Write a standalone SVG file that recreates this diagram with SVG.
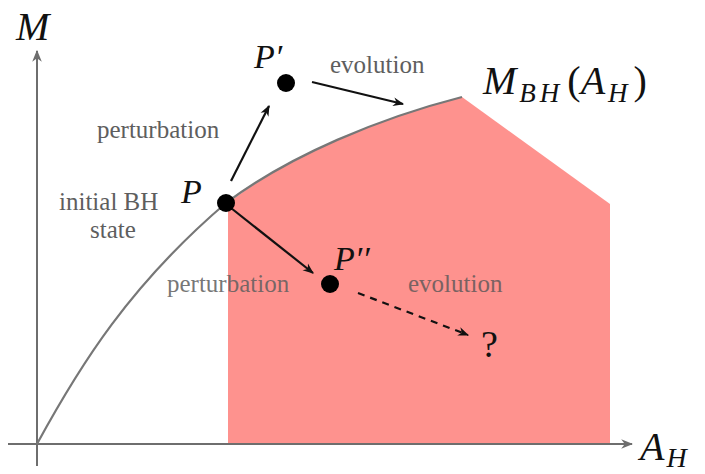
<svg xmlns="http://www.w3.org/2000/svg" width="705" height="474" viewBox="0 0 705 474">
<style>
.lbl{font-family:"Liberation Serif","DejaVu Serif",serif;font-size:25px;fill:#5e5e5e}
.math{font-family:"Liberation Serif","DejaVu Serif",serif;font-style:italic;fill:#111}
.arr{stroke:#111;stroke-width:2.2;fill:none;marker-end:url(#ah)}
.axis{stroke:#6e6e6e;stroke-width:2;fill:none}
</style>
<defs>
<marker id="ah" viewBox="0 0 10 10" refX="9" refY="5" markerWidth="5" markerHeight="5" orient="auto" markerUnits="strokeWidth">
<path d="M0,1 L10,5 L0,9 L3,5 Z" fill="#111"/>
</marker>
<marker id="axh" viewBox="0 0 10 10" refX="9" refY="5" markerWidth="6" markerHeight="6" orient="auto" markerUnits="strokeWidth">
<path d="M0,1 L10,5 L0,9 L3,5 Z" fill="#6e6e6e"/>
</marker>
</defs>
<rect width="705" height="474" fill="#fff"/>
<g id="region">
<path d="M228,203 C290,155 380,118 462,97 L610,204 L610,445 L228,445 Z" fill="#fe928e"/>
</g>
<g id="axes">
<line class="axis" x1="37" y1="466" x2="37" y2="51" marker-end="url(#axh)"/>
<line class="axis" x1="8" y1="444" x2="632" y2="444" marker-end="url(#axh)"/>
<text class="math" x="16" y="40" font-size="40" letter-spacing="2">M</text>
<text class="math" x="640" y="460" font-size="40">A<tspan font-size="28" dx="2" dy="7">H</tspan></text>
</g>
<g id="curve">
<path d="M37,444 C80,365 130,285 226,203 C290,155 380,118 462,97" stroke="#777" stroke-width="2.2" fill="none"/>
<text class="math" x="483" y="94" font-size="40">M<tspan font-size="27" dx="3" dy="8" letter-spacing="4">BH</tspan><tspan dx="4" dy="-8" font-style="normal">(</tspan>A<tspan font-size="27" dx="3" dy="8">H</tspan><tspan dx="6" dy="-8" font-style="normal">)</tspan></text>
</g>
<g id="connectors">
<line class="arr" x1="231" y1="181" x2="269" y2="106"/>
<line class="arr" x1="312" y1="82" x2="403" y2="104"/>
<line class="arr" x1="231" y1="208" x2="313" y2="273"/>
<line class="arr" x1="358" y1="293" x2="468" y2="335" stroke-dasharray="7,6"/>
</g>
<g id="P">
<circle cx="226" cy="203" r="9" fill="#000"/>
<text class="math" x="181" y="203" font-size="34">P</text>
<text class="lbl" x="59" y="210">initial BH</text>
<text class="lbl" x="90" y="238">state</text>
</g>
<g id="Pprime">
<circle cx="286" cy="83" r="9" fill="#000"/>
<text class="math" x="254" y="68" font-size="34">P′</text>
<text class="lbl" x="97" y="138">perturbation</text>
<text class="lbl" x="330" y="73">evolution</text>
</g>
<g id="Pdprime">
<circle cx="330" cy="284" r="9" fill="#000"/>
<text class="math" x="334" y="270" font-size="34">P′′</text>
<text class="lbl" x="167" y="292" fill-opacity="0.85">perturbation</text>
<text class="lbl" x="408" y="292" style="fill:#7a6262">evolution</text>
</g>
<g id="q">
<text x="481" y="357" font-family="Liberation Serif,serif" font-size="38" fill="#111">?</text>
</g>
</svg>
